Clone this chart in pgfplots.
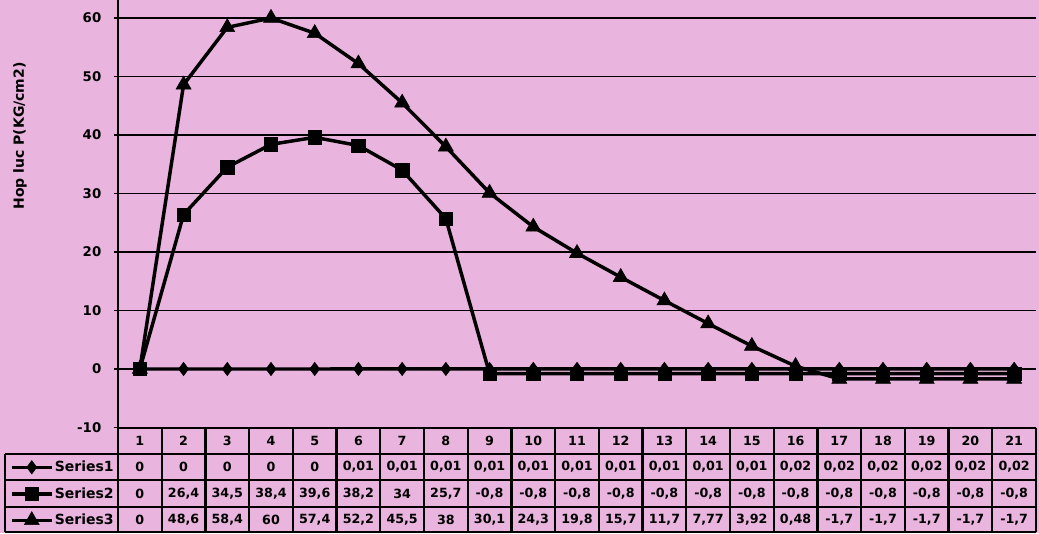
\documentclass[border=0pt]{standalone}
\usepackage{pgfplots}
\usepackage{pgfplotstable}
\pgfplotsset{compat=1.18}
\usepackage{fontspec}
\setmainfont{DejaVu Sans}
\definecolor{bgpink}{RGB}{233,180,221}

\pgfplotstableread{
x s1 s2 s3
1 0 0 0
2 0 26.4 48.6
3 0 34.5 58.4
4 0 38.4 60
5 0 39.6 57.4
6 0.01 38.2 52.2
7 0.01 34 45.5
8 0.01 25.7 38
9 0.01 -0.8 30.1
10 0.01 -0.8 24.3
11 0.01 -0.8 19.8
12 0.01 -0.8 15.7
13 0.01 -0.8 11.7
14 0.01 -0.8 7.77
15 0.01 -0.8 3.92
16 0.02 -0.8 0.48
17 0.02 -0.8 -1.7
18 0.02 -0.8 -1.7
19 0.02 -0.8 -1.7
20 0.02 -0.8 -1.7
21 0.02 -0.8 -1.7
}\data

\begin{document}
\begin{tikzpicture}[x=0.75pt,y=0.75pt]
\fill[bgpink] (0,0) rectangle (1039,533);
\begin{axis}[
  at={(88.5pt,79.125pt)}, anchor=south west,
  scale only axis, width=688.5pt, height=320.625pt,
  xmin=0.5, xmax=21.5, ymin=-10, ymax=63.08,
  axis x line*=bottom, axis y line*=left,
  axis line style={-, line width=1.5pt, black},
  xtick=\empty,
  ytick={-10,0,10,20,30,40,50,60},
  /pgf/number format/assume math mode=true,
  ymajorgrids, grid style={black, line width=1.1pt},
  tick align=outside, major tick length=3pt,
  tick style={black, line width=1pt},
  yticklabel style={font=\bfseries\fontsize{10}{12}\selectfont, xshift=-6pt},
  clip=false,
  legend cell align=left,
  legend image code/.code={\draw[mark repeat=2,mark phase=2,#1] plot coordinates {(0pt,0pt) (15pt,0pt) (30pt,0pt)};},
  legend style={at={(-0.1176,-0.062)}, anchor=north west, draw=none, fill=none,
    inner sep=0pt, outer sep=0pt, row sep=0pt, column sep=1pt,
    font=\bfseries\fontsize{10.5}{12}\selectfont,
    nodes={inner sep=0pt, minimum height=19.9pt}},
]
\addplot[black, line width=2.6pt, mark=diamond*, mark size=5pt, mark options={line width=0.4pt}] table[x=x,y=s1] {\data};
\addlegendentry{Series1}
\addplot[black, line width=2.6pt, mark=square*, mark size=5pt, mark options={line width=0.4pt}] table[x=x,y=s2] {\data};
\addlegendentry{Series2}
\addplot[black, line width=2.6pt, mark=triangle*, mark size=6.5pt, mark options={line width=0.4pt}] table[x=x,y=s3] {\data};
\addlegendentry{Series3}
\end{axis}
% y label
\node[rotate=90, font=\bfseries\fontsize{10.5}{12}\selectfont] at (20,397) {Hop luc P(KG/cm2)};
% data table grid
\begin{scope}[line width=1.8pt, black]
\draw (5,79) -- (1036,79);
\draw (5,53) -- (1036,53);
\draw (5,26) -- (1036,26);
\draw (5,1) -- (1036,1);
\draw (5,1) -- (5,79);
\draw (118,1) -- (118,105.5);
\foreach \k in {1,...,21} { \draw ({118+\k*43.714},1) -- ({118+\k*43.714},105.5); }
\end{scope}
\pgfkeys{/pgf/number format/.cd, use comma, fixed, precision=2, assume math mode=true}
\foreach \r in {0,...,20} {
  \pgfplotstablegetelem{\r}{x}\of\data \let\vx\pgfplotsretval
  \node[font=\bfseries\fontsize{9.5}{11}\selectfont] at ({118+(\r+0.5)*43.714},92) {\vx};
  \pgfplotstablegetelem{\r}{s1}\of\data \let\va\pgfplotsretval
  \node[font=\bfseries\fontsize{9.5}{11}\selectfont] at ({118+(\r+0.5)*43.714},66) {\pgfmathprintnumber{\va}};
  \pgfplotstablegetelem{\r}{s2}\of\data \let\vb\pgfplotsretval
  \node[font=\bfseries\fontsize{9.5}{11}\selectfont] at ({118+(\r+0.5)*43.714},39.5) {\pgfmathprintnumber{\vb}};
  \pgfplotstablegetelem{\r}{s3}\of\data \let\vc\pgfplotsretval
  \node[font=\bfseries\fontsize{9.5}{11}\selectfont] at ({118+(\r+0.5)*43.714},13) {\pgfmathprintnumber{\vc}};
}
\pgfresetboundingbox
\path[use as bounding box] (0,0) rectangle (1039,533);
\end{tikzpicture}
\end{document}
